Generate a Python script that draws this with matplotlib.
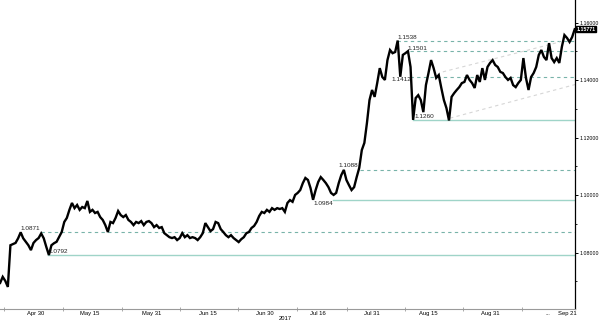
import numpy as np
import matplotlib.pyplot as plt

plt.rcParams['font.family'] = ['Liberation Sans', 'DejaVu Sans']

# EUR/CHF in half trading-day steps (day 0 = Apr 20, 2017)
late_apr_may = [
    1.0695, 1.0716, 1.0702, 1.0681, 1.0826, 1.0830, 1.0834, 1.0850, 1.0871, 1.0850,
    1.0838, 1.0826, 1.0809, 1.0834, 1.0844, 1.0851, 1.0867, 1.0850, 1.0820, 1.0792,
    1.0826, 1.0833, 1.0838, 1.0855, 1.0872, 1.0907, 1.0921, 1.0949, 1.0973, 1.0955,
    1.0966, 1.0949, 1.0959, 1.0955, 1.0980, 1.0942, 1.0949, 1.0938, 1.0942, 1.0924,
]
late_may_jun = [
    1.0914, 1.0896, 1.0872, 1.0907, 1.0903, 1.0921, 1.0945, 1.0931, 1.0924, 1.0931,
    1.0914, 1.0907, 1.0896, 1.0907, 1.0903, 1.0910, 1.0896, 1.0907, 1.0910, 1.0903,
    1.0889, 1.0896, 1.0886, 1.0889, 1.0868, 1.0861, 1.0854, 1.0851, 1.0854, 1.0844,
    1.0851, 1.0868, 1.0854, 1.0861, 1.0851, 1.0854, 1.0851, 1.0844, 1.0854, 1.0868,
    1.0903, 1.0889, 1.0875, 1.0882, 1.0907, 1.0903, 1.0882, 1.0872, 1.0861, 1.0854,
    1.0861, 1.0851, 1.0844, 1.0837, 1.0847, 1.0854, 1.0868, 1.0872, 1.0886, 1.0893,
]
jul = [
    1.0907, 1.0928, 1.0942, 1.0938, 1.0949, 1.0942, 1.0955, 1.0949, 1.0955, 1.0952,
    1.0955, 1.0942, 1.0973, 1.0983, 1.0977, 1.1001, 1.1008, 1.1018, 1.1042, 1.1060,
    1.1053, 1.1025, 1.0984, 1.1018, 1.1046, 1.1063, 1.1053, 1.1042, 1.1028, 1.1008,
    1.1001, 1.1008, 1.1042, 1.1070, 1.1088, 1.1053, 1.1035, 1.1018, 1.1028, 1.1063,
    1.1095, 1.1157, 1.1182, 1.1251, 1.1331, 1.1366, 1.1342, 1.1390, 1.1442, 1.1411,
    1.1401, 1.1470, 1.1505, 1.1494, 1.1498, 1.1538, 1.1412, 1.1488, 1.1494, 1.1501,
]
aug_sep = [
    1.1446, 1.1262, 1.1338, 1.1348, 1.1331, 1.1289, 1.1383, 1.1425, 1.1470, 1.1442,
    1.1408, 1.1418, 1.1373, 1.1331, 1.1303, 1.1260, 1.1342, 1.1355, 1.1366, 1.1376,
    1.1390, 1.1394, 1.1418, 1.1401, 1.1390, 1.1373, 1.1418, 1.1394, 1.1442, 1.1401,
    1.1446, 1.1460, 1.1470, 1.1453, 1.1446, 1.1429, 1.1425, 1.1411, 1.1401, 1.1408,
    1.1383, 1.1376, 1.1390, 1.1401, 1.1477, 1.1408, 1.1366, 1.1411, 1.1425, 1.1446,
    1.1488, 1.1505, 1.1481, 1.1470, 1.1529, 1.1477, 1.1463, 1.1477, 1.1460, 1.1516,
    1.1557, 1.1547, 1.1533, 1.1550, 1.15771,
]
last_price = 1.15771

# support / resistance levels and the day where each one starts
dashed_levels = [1.1538, 1.1501, 1.1412, 1.1088, 1.0871]
dashed_start = [76.9, 79.4, 79.4, 69.6, 7.5]
solid_levels = [1.1260, 1.0984, 1.0792]
solid_start = [80.0, 64.4, 8.8]

level_text = ["1.1538", "1.1501", "1.1412", "1.1260", "1.1088", "1.0984", "1.0871", "1.0792"]
level_text_day = [76.9, 79.0, 75.7, 80.2, 65.4, 60.5, 3.5, 8.9]
level_text_y = [1.1547, 1.1511, 1.1401, 1.1273, 1.1102, 1.0972, 1.0885, 1.0803]

# faint channel lines
trend_days = [[85.8, 108.6], [87.2, 111.6]]
trend_vals = [[1.1429, 1.1533], [1.1268, 1.1385]]

date_labels = ["Apr 30", "May 15", "May 31", "Jun 15", "Jun 30",
               "Jul 16", "Jul 31", "Aug 15", "Aug 31", "Sep 21"]
date_days = [6.5, 17, 29, 40, 51, 61.5, 72, 83, 95, 110]
sep_days = [0.25, 11.75, 23.25, 34.56, 45.87, 57.37, 67.1, 78.4, 89.7, 101.2]

y_major = [1.08, 1.10, 1.12, 1.14, 1.16]
y_minor = [1.07, 1.09, 1.11, 1.13, 1.15]

price = np.array(late_apr_may + late_may_jun + jul + aug_sep)
days = np.arange(len(price)) * 0.5 - 0.5

fig = plt.figure(figsize=(6, 3.23), dpi=100)
ax = fig.add_axes([0, 14 / 323, 575 / 600, 309 / 323])

x_end = 111.56
dash_col = '#78b3a9'
solid_col = '#9fd4c8'

for lv, x0 in zip(dashed_levels, dashed_start):
    ax.plot([x0, x_end], [lv, lv], color=dash_col, lw=0.8, dashes=(3, 3))
for lv, x0 in zip(solid_levels, solid_start):
    ax.plot([x0, x_end], [lv, lv], color=solid_col, lw=1.0)
for td, tv in zip(trend_days, trend_vals):
    ax.plot(td, tv, color='#d6d6d6', lw=0.8, dashes=(3, 3))

ax.plot(days, price, color='black', lw=1.7, solid_joinstyle='miter')

for t, d, v in zip(level_text, level_text_day, level_text_y):
    ax.text(d, v, t, fontsize=4.6, color='#222222', ha='left', va='center')

ax.set_xlim(-0.53, x_end)
ax.set_ylim(1.06042, 1.1679)

for s in ['top', 'left']:
    ax.spines[s].set_visible(False)
ax.spines['right'].set_color('black')
ax.spines['right'].set_linewidth(0.9)
ax.spines['bottom'].set_color('#9a9a9a')
ax.spines['bottom'].set_linewidth(0.8)

ax.yaxis.tick_right()
ax.set_yticks(y_major)
ax.set_yticks(y_minor, minor=True)
ax.set_yticklabels([f"{v:.5f}" for v in y_major])
ax.tick_params(axis='y', which='major', direction='out', length=2, width=0.7,
               labelsize=3.8, pad=1, colors='black')
ax.tick_params(axis='y', which='minor', direction='out', length=1.5, width=0.6)

ax.set_xticks(date_days)
ax.set_xticklabels(date_labels)
ax.set_xticks(sep_days, minor=True)
ax.tick_params(axis='x', which='major', length=0, labelsize=4.2, pad=1.5)
ax.tick_params(axis='x', which='minor', direction='inout', length=3, width=0.6,
               color='#9a9a9a')

ax.text(55.0, -0.032, "2017", transform=ax.get_xaxis_transform(),
        fontsize=4.2, ha='center', va='center')
ax.text(106.3, -0.016, "...", transform=ax.get_xaxis_transform(),
        fontsize=4.2, ha='center', va='center')

ax.text(1.002, last_price, "1.15771", transform=ax.get_yaxis_transform(),
        fontsize=3.8, color='white', fontweight='bold', ha='left', va='center',
        bbox=dict(boxstyle='square,pad=0.12', fc='black', ec='black'))

fig.savefig("out.png", dpi=100)
